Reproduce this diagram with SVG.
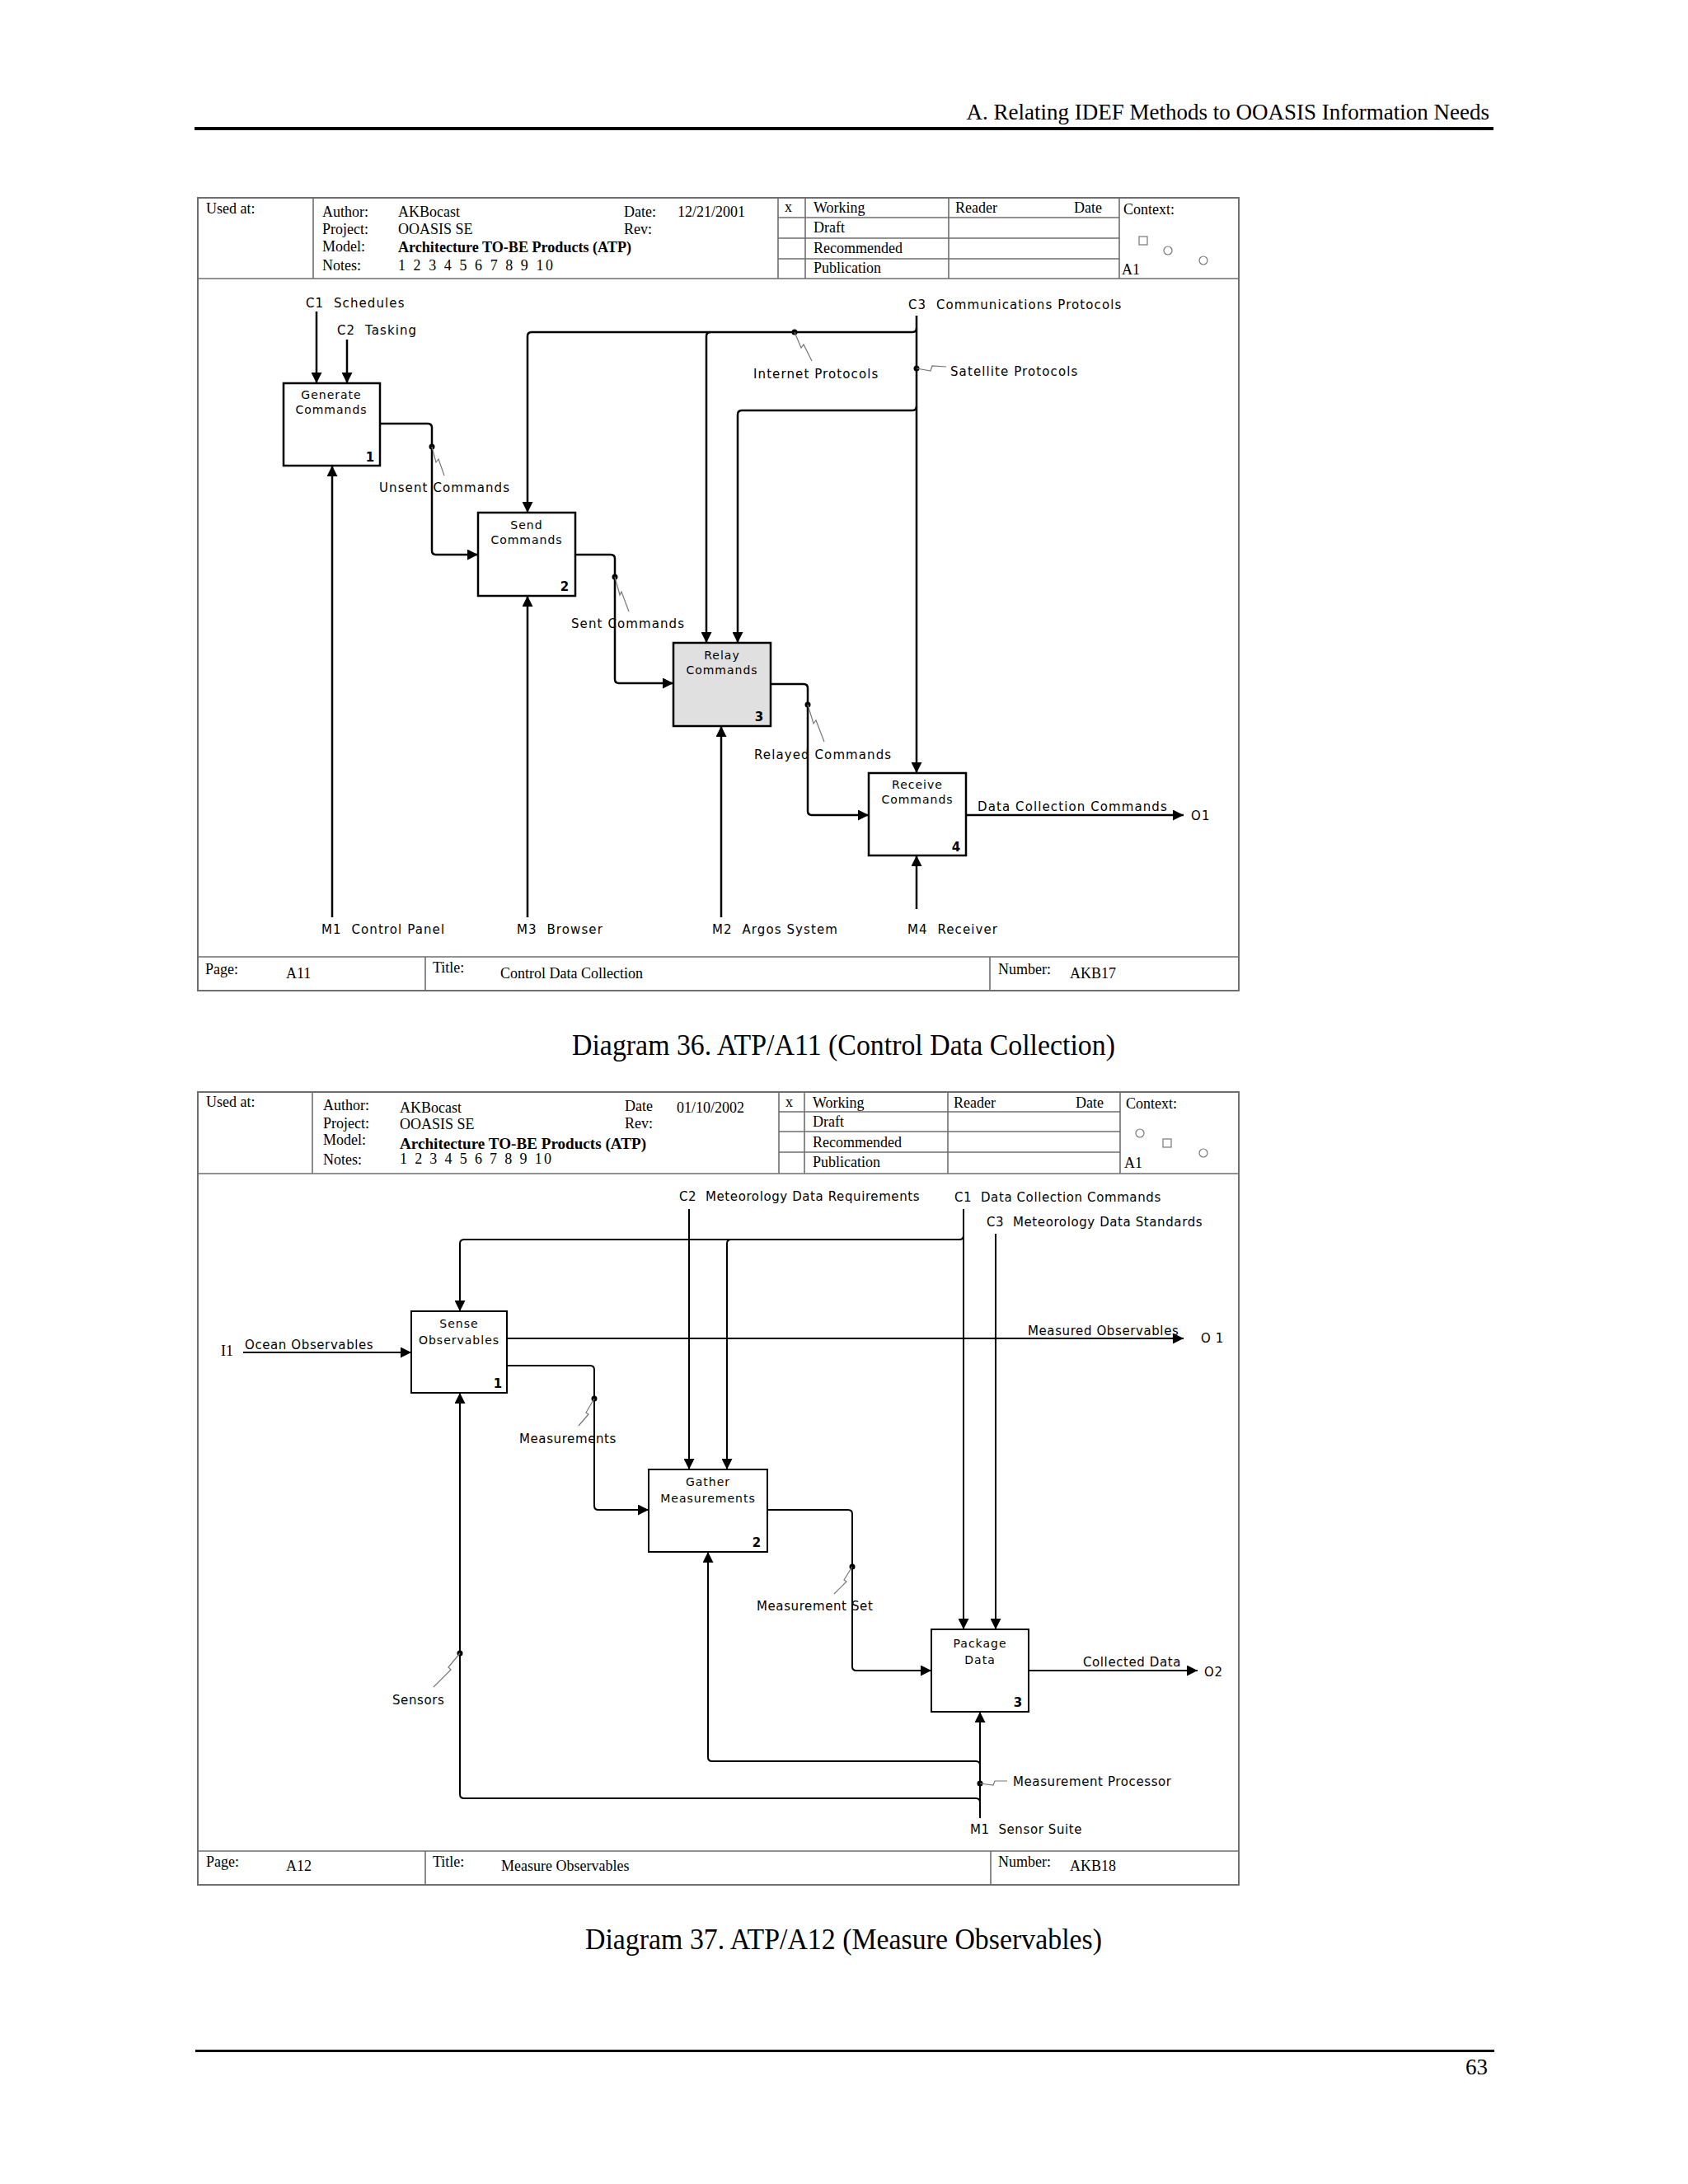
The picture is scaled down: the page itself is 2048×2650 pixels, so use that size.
<svg xmlns="http://www.w3.org/2000/svg" width="2048" height="2650" viewBox="0 0 2048 2650">
<style>
.bg{fill:#fff}
.frame{fill:none;stroke:#6e6e6e;stroke-width:2}
.grid{fill:none;stroke:#6e6e6e;stroke-width:1.6}
.tb{font-family:"Liberation Serif","Times New Roman",serif;font-size:18px;fill:#000}
.tbb{font-family:"Liberation Serif","Times New Roman",serif;font-size:18px;font-weight:bold;fill:#000}
.lbl{font-family:"DejaVu Sans",Verdana,sans-serif;font-size:15px;letter-spacing:1.1px;fill:#000;white-space:pre}
.lbl2{font-family:"DejaVu Sans",Verdana,sans-serif;font-size:15px;letter-spacing:0.6px;fill:#000;white-space:pre}
.bx{font-family:"DejaVu Sans",Verdana,sans-serif;font-size:14px;letter-spacing:1px;fill:#000;text-anchor:middle}
.num{font-family:"DejaVu Sans",Verdana,sans-serif;font-size:15px;font-weight:bold;fill:#000;text-anchor:middle}
.box{fill:#fff;stroke:#000;stroke-width:2.5}
.box2{fill:#fff;stroke:#000;stroke-width:2}
.gray{fill:#e0e0e0}
.cn{fill:none;stroke:#000;stroke-width:2.5;marker-end:url(#ah)}
.cn2{fill:none;stroke:#000;stroke-width:2;marker-end:url(#ah)}
.sq{fill:none;stroke:#777;stroke-width:1.2}
.dot{fill:#000}
.cap{font-family:"Liberation Serif","Times New Roman",serif;font-size:36px;fill:#000}
.icon{fill:none;stroke:#777;stroke-width:1.2}
</style>
<defs>
<marker id="ah" viewBox="0 0 13 13" refX="13" refY="6.5" markerWidth="13" markerHeight="13" orient="auto" markerUnits="userSpaceOnUse">
<path d="M0,0 L13,6.5 L0,13 z" fill="#000"/>
</marker>
</defs>
<rect class="bg" x="0" y="0" width="2048" height="2650"/>

<!-- Page header -->
<text x="1807" y="145" text-anchor="end" style="font-family:'Liberation Serif','Times New Roman',serif;font-size:27px">A. Relating IDEF Methods to OOASIS Information Needs</text>
<rect x="236" y="154" width="1576" height="4" fill="#000"/>

<!-- ================= Diagram 36 frame ================= -->
<g id="frame1">
<rect class="frame" x="240" y="240" width="1263" height="962"/>
<line class="grid" x1="240" y1="338" x2="1503" y2="338"/>
<line class="grid" x1="380" y1="240" x2="380" y2="338"/>
<line class="grid" x1="944" y1="240" x2="944" y2="338"/>
<line class="grid" x1="977" y1="240" x2="977" y2="338"/>
<line class="grid" x1="1151" y1="240" x2="1151" y2="338"/>
<line class="grid" x1="1358" y1="240" x2="1358" y2="338"/>
<line class="grid" x1="944" y1="264" x2="1358" y2="264"/>
<line class="grid" x1="944" y1="289" x2="1358" y2="289"/>
<line class="grid" x1="944" y1="314" x2="1358" y2="314"/>
<text class="tb" x="250" y="259">Used at:</text>
<text class="tb" x="391" y="263">Author:</text>
<text class="tb" x="483" y="263">AKBocast</text>
<text class="tb" x="757" y="263">Date:</text>
<text class="tb" x="822" y="263">12/21/2001</text>
<text class="tb" x="391" y="284">Project:</text>
<text class="tb" x="483" y="284">OOASIS SE</text>
<text class="tb" x="757" y="284">Rev:</text>
<text class="tb" x="391" y="305">Model:</text>
<text class="tbb" x="483" y="306" textLength="283" lengthAdjust="spacingAndGlyphs">Architecture TO-BE Products (ATP)</text>
<text class="tb" x="391" y="328">Notes:</text>
<text class="tb" x="483" y="328" textLength="188">1 2 3 4 5 6 7 8 9 10</text>
<text class="tb" x="952" y="257">x</text>
<text class="tb" x="987" y="258">Working</text>
<text class="tb" x="987" y="282">Draft</text>
<text class="tb" x="987" y="307">Recommended</text>
<text class="tb" x="987" y="331">Publication</text>
<text class="tb" x="1159" y="258">Reader</text>
<text class="tb" x="1303" y="258">Date</text>
<text class="tb" x="1363" y="260">Context:</text>
<text class="tb" x="1361" y="333">A1</text>
<rect class="icon" x="1382" y="287" width="10" height="10"/>
<circle class="icon" cx="1417" cy="304" r="5"/>
<circle class="icon" cx="1460" cy="316" r="5"/>
<line class="grid" x1="240" y1="1161" x2="1503" y2="1161"/>
<line class="grid" x1="516" y1="1161" x2="516" y2="1202"/>
<line class="grid" x1="1201" y1="1161" x2="1201" y2="1202"/>
<text class="tb" x="249" y="1182">Page:</text>
<text class="tb" x="347" y="1187">A11</text>
<text class="tb" x="525" y="1180">Title:</text>
<text class="tb" x="607" y="1187">Control Data Collection</text>
<text class="tb" x="1211" y="1182">Number:</text>
<text class="tb" x="1298" y="1187">AKB17</text>
</g>

<!-- Diagram 36 connectors -->
<g id="connectors1">
<path class="cn" d="M384,378 V465"/>
<path class="cn" d="M421,412 V465"/>
<path class="cn" d="M461,514 H519 Q524,514 524,519 V668 Q524,673 529,673 H580"/>
<path class="cn" d="M1112,383 V938"/>
<path class="cn" d="M1112,398 Q1112,403 1107,403 H645 Q640,403 640,408 V622"/>
<path class="cn" d="M862,403 Q857,403 857,408 V780"/>
<path class="cn" d="M1112,493 Q1112,498 1107,498 H900 Q895,498 895,503 V780"/>
<path class="cn" d="M698,673 H741 Q746,673 746,678 V824 Q746,829 751,829 H817"/>
<path class="cn" d="M935,830 H975 Q980,830 980,835 V984 Q980,989 985,989 H1054"/>
<path class="cn" d="M1172,989 H1436"/>
<path class="cn" d="M403,1113 V565"/>
<path class="cn" d="M640,1113 V723"/>
<path class="cn" d="M875,1113 V881"/>
<path class="cn" d="M1112,1103 V1038"/>
<circle class="dot" cx="524" cy="542" r="3.5"/>
<circle class="dot" cx="746" cy="700" r="3.5"/>
<circle class="dot" cx="964" cy="403" r="3.5"/>
<circle class="dot" cx="1112" cy="447" r="3.5"/>
<circle class="dot" cx="980" cy="855" r="3.5"/>
<polyline class="sq" points="524,542 529,561 532,557 539,577"/>
<polyline class="sq" points="746,700 752,722 754,718 763,742"/>
<polyline class="sq" points="964,403 972,422 975,418 985,438"/>
<polyline class="sq" points="980,855 987,878 990,874 1000,900"/>
<polyline class="sq" points="1112,447 1129,450 1131,444 1148,445"/>
<text class="lbl" x="371" y="373">C1  Schedules</text>
<text class="lbl" x="409" y="406">C2  Tasking</text>
<text class="lbl" x="1102" y="375">C3  Communications Protocols</text>
<text class="lbl" x="914" y="459">Internet Protocols</text>
<text class="lbl" x="1153" y="456">Satellite Protocols</text>
<text class="lbl" x="460" y="597">Unsent Commands</text>
<text class="lbl" x="693" y="762">Sent Commands</text>
<text class="lbl" x="915" y="921">Relayed Commands</text>
<text class="lbl" x="1186" y="984">Data Collection Commands</text>
<text class="lbl" x="1445" y="995">O1</text>
<text class="lbl" x="390" y="1133">M1  Control Panel</text>
<text class="lbl" x="627" y="1133">M3  Browser</text>
<text class="lbl" x="864" y="1133">M2  Argos System</text>
<text class="lbl" x="1101" y="1133">M4  Receiver</text>
</g>

<g id="a11-1">
<rect class="box" x="344" y="465" width="117" height="100"/>
<text class="bx" x="402" y="484">Generate</text>
<text class="bx" x="402" y="502">Commands</text>
<text class="num" x="449" y="560">1</text>
</g>
<g id="a11-2">
<rect class="box" x="580" y="622" width="118" height="101"/>
<text class="bx" x="639" y="642">Send</text>
<text class="bx" x="639" y="660">Commands</text>
<text class="num" x="685" y="717">2</text>
</g>
<g id="a11-3">
<rect class="box gray" x="817" y="780" width="118" height="101"/>
<text class="bx" x="876" y="800">Relay</text>
<text class="bx" x="876" y="818">Commands</text>
<text class="num" x="921" y="875">3</text>
</g>
<g id="a11-4">
<rect class="box" x="1054" y="938" width="118" height="100"/>
<text class="bx" x="1113" y="957">Receive</text>
<text class="bx" x="1113" y="975">Commands</text>
<text class="num" x="1160" y="1033">4</text>
</g>

<text class="cap" x="694" y="1280" textLength="659" lengthAdjust="spacingAndGlyphs">Diagram 36. ATP/A11 (Control Data Collection)</text>

<!-- ================= Diagram 37 frame ================= -->
<g id="frame2">
<rect class="frame" x="240" y="1325" width="1263" height="962"/>
<line class="grid" x1="240" y1="1424" x2="1503" y2="1424"/>
<line class="grid" x1="379" y1="1325" x2="379" y2="1424"/>
<line class="grid" x1="945" y1="1325" x2="945" y2="1424"/>
<line class="grid" x1="976" y1="1325" x2="976" y2="1424"/>
<line class="grid" x1="1150" y1="1325" x2="1150" y2="1424"/>
<line class="grid" x1="1359" y1="1325" x2="1359" y2="1424"/>
<line class="grid" x1="945" y1="1349" x2="1359" y2="1349"/>
<line class="grid" x1="945" y1="1373" x2="1359" y2="1373"/>
<line class="grid" x1="945" y1="1398" x2="1359" y2="1398"/>
<text class="tb" x="250" y="1343">Used at:</text>
<text class="tb" x="392" y="1347">Author:</text>
<text class="tb" x="485" y="1350">AKBocast</text>
<text class="tb" x="758" y="1348">Date</text>
<text class="tb" x="821" y="1350">01/10/2002</text>
<text class="tb" x="392" y="1369">Project:</text>
<text class="tb" x="485" y="1370">OOASIS SE</text>
<text class="tb" x="758" y="1369">Rev:</text>
<text class="tb" x="392" y="1389">Model:</text>
<text class="tbb" x="485" y="1394" textLength="299" lengthAdjust="spacingAndGlyphs">Architecture TO-BE Products (ATP)</text>
<text class="tb" x="392" y="1413">Notes:</text>
<text class="tb" x="485" y="1412" textLength="184">1 2 3 4 5 6 7 8 9 10</text>
<text class="tb" x="953" y="1343">x</text>
<text class="tb" x="986" y="1344">Working</text>
<text class="tb" x="986" y="1367">Draft</text>
<text class="tb" x="986" y="1392">Recommended</text>
<text class="tb" x="986" y="1416">Publication</text>
<text class="tb" x="1157" y="1344">Reader</text>
<text class="tb" x="1305" y="1344">Date</text>
<text class="tb" x="1366" y="1345">Context:</text>
<text class="tb" x="1364" y="1417">A1</text>
<circle class="icon" cx="1383" cy="1375" r="5"/>
<rect class="icon" x="1411" y="1382" width="10" height="10"/>
<circle class="icon" cx="1460" cy="1399" r="5"/>
<line class="grid" x1="240" y1="2246" x2="1503" y2="2246"/>
<line class="grid" x1="516" y1="2246" x2="516" y2="2287"/>
<line class="grid" x1="1202" y1="2246" x2="1202" y2="2287"/>
<text class="tb" x="250" y="2265">Page:</text>
<text class="tb" x="347" y="2270">A12</text>
<text class="tb" x="525" y="2265">Title:</text>
<text class="tb" x="608" y="2270">Measure Observables</text>
<text class="tb" x="1211" y="2265">Number:</text>
<text class="tb" x="1298" y="2270">AKB18</text>
</g>

<!-- Diagram 37 connectors -->
<g id="connectors2">
<path class="cn2" d="M836,1467 V1783"/>
<path class="cn2" d="M1169,1467 V1977"/>
<path class="cn2" d="M1169,1499 Q1169,1504 1164,1504 H563 Q558,1504 558,1509 V1591"/>
<path class="cn2" d="M887,1504 Q882,1504 882,1509 V1783"/>
<path class="cn2" d="M1208,1497 V1977"/>
<path class="cn2" d="M295,1641 H499"/>
<path class="cn2" d="M615,1624 H1436"/>
<path class="cn2" d="M615,1657 H716 Q721,1657 721,1662 V1827 Q721,1832 726,1832 H787"/>
<path class="cn2" d="M931,1832 H1029 Q1034,1832 1034,1837 V2022 Q1034,2027 1039,2027 H1130"/>
<path class="cn2" d="M1248,2027 H1453"/>
<path class="cn2" d="M1189,2206 V2077"/>
<path class="cn2" d="M1189,2142 Q1189,2137 1184,2137 H864 Q859,2137 859,2132 V1883"/>
<path class="cn2" d="M1189,2187 Q1189,2182 1184,2182 H563 Q558,2182 558,2177 V1690"/>
<circle class="dot" cx="721" cy="1697" r="3.5"/>
<circle class="dot" cx="1034" cy="1901" r="3.5"/>
<circle class="dot" cx="558" cy="2006" r="3.5"/>
<circle class="dot" cx="1189" cy="2164" r="3.5"/>
<polyline class="sq" points="721,1697 711,1714 714,1716 702,1730"/>
<polyline class="sq" points="1034,1901 1024,1917 1027,1919 1012,1934"/>
<polyline class="sq" points="558,2006 544,2023 547,2026 526,2047"/>
<polyline class="sq" points="1189,2164 1205,2166 1207,2161 1222,2161"/>
<text class="lbl2" x="824" y="1457">C2  Meteorology Data Requirements</text>
<text class="lbl2" x="1158" y="1458">C1  Data Collection Commands</text>
<text class="lbl2" x="1197" y="1488">C3  Meteorology Data Standards</text>
<text class="tb" x="268" y="1645">I1</text>
<text class="lbl2" x="297" y="1637">Ocean Observables</text>
<text class="lbl2" x="1247" y="1620">Measured Observables</text>
<text class="lbl2" x="1457" y="1629">O 1</text>
<text class="lbl2" x="630" y="1751">Measurements</text>
<text class="lbl2" x="918" y="1954">Measurement Set</text>
<text class="lbl2" x="1314" y="2022">Collected Data</text>
<text class="lbl2" x="1461" y="2034">O2</text>
<text class="lbl2" x="476" y="2068">Sensors</text>
<text class="lbl2" x="1229" y="2167">Measurement Processor</text>
<text class="lbl2" x="1177" y="2225">M1  Sensor Suite</text>
</g>

<g id="a12-1">
<rect class="box2" x="499" y="1591" width="116" height="99"/>
<text class="bx" x="557" y="1611">Sense</text>
<text class="bx" x="557" y="1631">Observables</text>
<text class="num" x="604" y="1684">1</text>
</g>
<g id="a12-2">
<rect class="box2" x="787" y="1783" width="144" height="100"/>
<text class="bx" x="859" y="1803">Gather</text>
<text class="bx" x="859" y="1823">Measurements</text>
<text class="num" x="918" y="1877">2</text>
</g>
<g id="a12-3">
<rect class="box2" x="1130" y="1977" width="118" height="100"/>
<text class="bx" x="1189" y="1999">Package</text>
<text class="bx" x="1189" y="2019">Data</text>
<text class="num" x="1235" y="2071">3</text>
</g>

<text class="cap" x="710" y="2365" textLength="627" lengthAdjust="spacingAndGlyphs">Diagram 37. ATP/A12 (Measure Observables)</text>

<!-- Page footer -->
<rect x="237" y="2487" width="1576" height="3" fill="#000"/>
<text x="1805" y="2517" text-anchor="end" style="font-family:'Liberation Serif','Times New Roman',serif;font-size:27px">63</text>
</svg>
